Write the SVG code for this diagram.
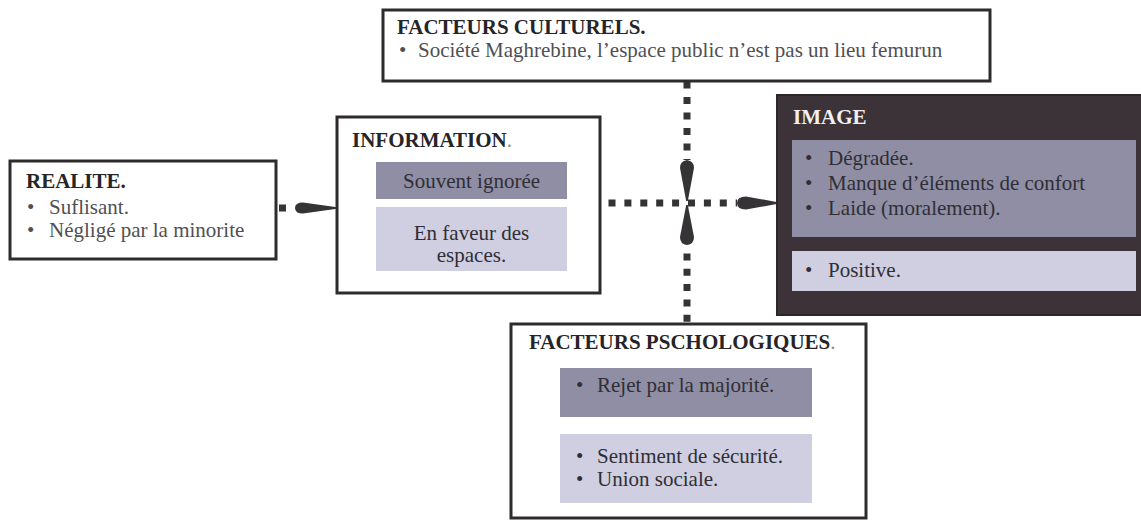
<svg xmlns="http://www.w3.org/2000/svg" width="1141" height="520" viewBox="0 0 1141 520">
  <style>
    .box { fill: #ffffff; stroke: #2e2b2d; stroke-width: 3; }
    .title { font-family: "Liberation Serif", "Times New Roman", serif; font-weight: bold; font-size: 21px; fill: #262426; }
    .body { font-family: "Liberation Serif", "Times New Roman", serif; font-size: 21px; fill: #505054; }
    .inner { font-family: "Liberation Serif", "Times New Roman", serif; font-size: 21px; fill: #2f2e36; }
    .mid { fill: #8f8ea4; }
    .light { fill: #cfcfe1; }
    .dots { stroke: #353335; stroke-width: 7; fill: none; }
    .head { fill: #353335; }
    .dim { fill: #8a8a90; font-weight: normal; }
  </style>

  <!-- connectors -->
  <g id="connectors">
    <!-- REALITE -> INFORMATION -->
    <rect x="279" y="204.5" width="7" height="7" class="head"/>
    <path class="head" d="M295,208 Q295,202.5 303,202.5 L337,207.2 L337,208.8 L303,213.5 Q295,213.5 295,208 Z"/>
    <!-- INFORMATION -> IMAGE -->
    <line class="dots" x1="608.5" y1="203" x2="737" y2="203" stroke-dasharray="7 8.9"/>
    <path class="head" d="M737,203 Q737,196.5 746,196.5 L778,202.2 L778,203.8 L746,209.5 Q737,209.5 737,203 Z"/>
    <!-- FACTEURS CULTURELS -> crossing -->
    <line class="dots" x1="687" y1="81.5" x2="687" y2="160" stroke-dasharray="7 8.5"/>
    <path class="head" d="M687,160 Q694,161 694,168 L687.8,201 L686.2,201 L680,168 Q680,161 687,160 Z"/>
    <!-- FACTEURS PSCHOLOGIQUES -> crossing -->
    <line class="dots" x1="687" y1="253.5" x2="687" y2="322" stroke-dasharray="7 8.3"/>
    <path class="head" d="M687,245 Q694,244 694,237 L687.8,205 L686.2,205 L680,237 Q680,244 687,245 Z"/>
  </g>

  <!-- REALITE -->
  <g id="realite">
    <rect class="box" x="10" y="161" width="266" height="98"/>
    <text class="title" x="26" y="188">REALITE.</text>
    <text class="body" x="27" y="214">•</text>
    <text class="body" x="49" y="214">Suflisant.</text>
    <text class="body" x="27" y="237">•</text>
    <text class="body" x="49" y="237">Négligé  par la minorite</text>
  </g>

  <!-- INFORMATION -->
  <g id="information">
    <rect class="box" x="337" y="117" width="263" height="176"/>
    <text class="title" x="352" y="147">INFORMATION<tspan class="dim">.</tspan></text>
    <rect class="mid" x="376" y="162" width="191" height="37"/>
    <text class="inner" x="471.5" y="188" text-anchor="middle">Souvent ignorée</text>
    <rect class="light" x="376" y="207" width="191" height="64"/>
    <text class="inner" x="471.5" y="240" text-anchor="middle">En faveur des</text>
    <text class="inner" x="471.5" y="262" text-anchor="middle">espaces.</text>
  </g>

  <!-- FACTEURS CULTURELS -->
  <g id="culturels">
    <rect class="box" x="383" y="10" width="607" height="71"/>
    <text class="title" x="397" y="34">FACTEURS CULTURELS.</text>
    <text class="body" x="399" y="57">•</text>
    <text class="body" x="418" y="57">Société Maghrebine, l’espace public n’est pas un lieu femurun</text>
  </g>

  <!-- IMAGE -->
  <g id="image">
    <rect x="777" y="95" width="366" height="220" fill="#3b3337" stroke="#2c2628" stroke-width="2"/>
    <text class="title" x="793" y="124" style="fill:#f2f0f2">IMAGE</text>
    <rect class="mid" x="792" y="140" width="344" height="97"/>
    <text class="inner" x="805" y="165">•</text>
    <text class="inner" x="828" y="165">Dégradée.</text>
    <text class="inner" x="805" y="190">•</text>
    <text class="inner" x="828" y="190">Manque d’éléments de confort</text>
    <text class="inner" x="805" y="215">•</text>
    <text class="inner" x="828" y="215">Laide (moralement).</text>
    <rect class="light" x="792" y="251" width="344" height="40"/>
    <text class="inner" x="805" y="277">•</text>
    <text class="inner" x="828" y="277">Positive.</text>
  </g>

  <!-- FACTEURS PSCHOLOGIQUES -->
  <g id="psychologiques">
    <rect class="box" x="511" y="324" width="355" height="194"/>
    <text class="title" x="529" y="349" font-size="21.5">FACTEURS PSCHOLOGIQUES<tspan class="dim">.</tspan></text>
    <rect class="mid" x="560" y="368" width="252" height="49"/>
    <text class="inner" x="576" y="392">•</text>
    <text class="inner" x="597" y="392">Rejet par la majorité.</text>
    <rect class="light" x="560" y="434" width="252" height="69"/>
    <text class="inner" x="576" y="463">•</text>
    <text class="inner" x="597" y="463">Sentiment de sécurité.</text>
    <text class="inner" x="576" y="486">•</text>
    <text class="inner" x="597" y="486">Union sociale.</text>
  </g>
</svg>
